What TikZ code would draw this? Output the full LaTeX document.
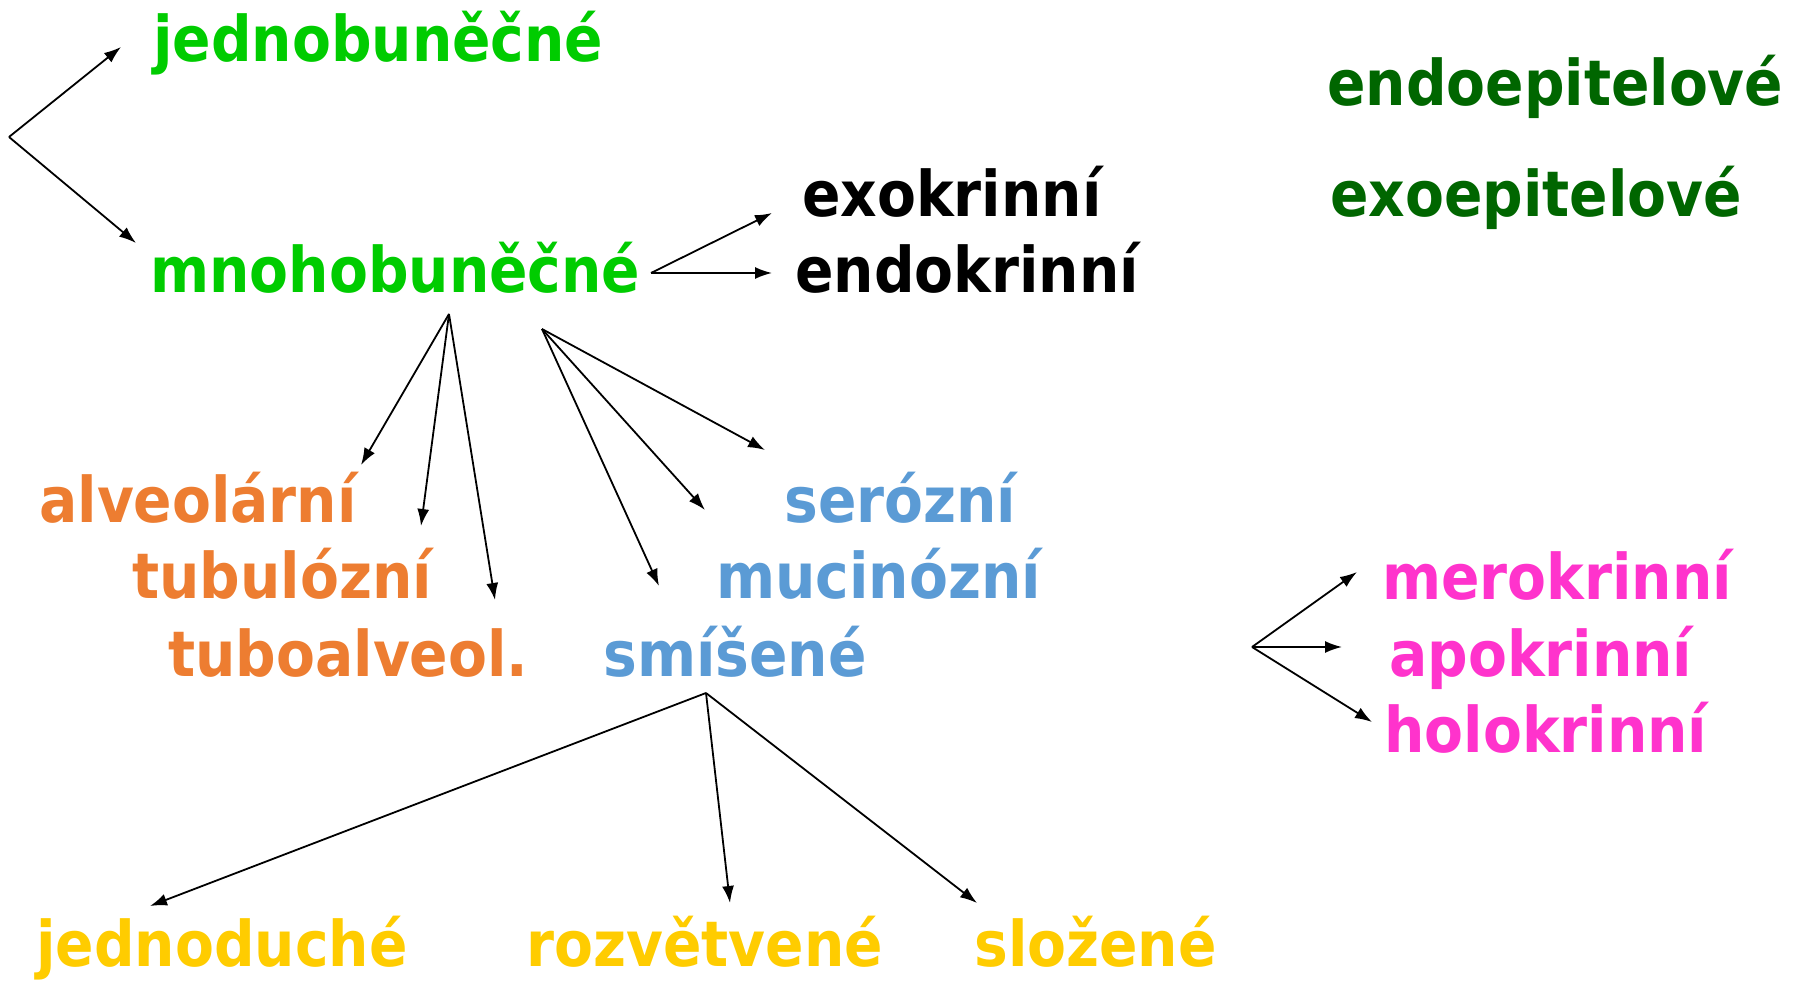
\documentclass[tikz,border=0pt]{standalone}
\usepackage{fontspec}
\setmainfont{DejaVu Sans Condensed}
\usetikzlibrary{arrows.meta}
\definecolor{litegreen}{RGB}{0,204,0}
\definecolor{darkgreen}{RGB}{0,102,0}
\definecolor{orng}{RGB}{237,125,49}
\definecolor{blu}{RGB}{91,155,213}
\definecolor{pnk}{RGB}{255,51,204}
\definecolor{yel}{RGB}{255,204,0}
\tikzset{
  word/.style={anchor=base west, inner sep=0pt, font=\bfseries\fontsize{31.5}{36}\selectfont},
  arr/.style={line width=0.9pt, -{Latex[length=8.5pt,width=6pt]}}
}
\begin{document}
\begin{tikzpicture}[x=0.5pt,y=-0.5pt]
  \useasboundingbox (0,0) rectangle (1801,983);
  % Words
  \node[word,litegreen] (jedno) at (153,62) {jednobuněčné};
  \node[word,litegreen] (mnoho) at (150,293) {mnohobuněčné};
  \node[word] (exo) at (802,217) {exokrinní};
  \node[word] (endo) at (795,293) {endokrinní};
  \node[word,darkgreen] (endoep) at (1327,106) {endoepitelové};
  \node[word,darkgreen] (exoep) at (1330,217) {exoepitelové};
  \node[word,orng] (alv) at (39,523) {alveolární};
  \node[word,orng] (tub) at (132,599) {tubulózní};
  \node[word,orng] (tubalv) at (168,677) {tuboalveol.};
  \node[word,blu] (ser) at (784,523) {serózní};
  \node[word,blu] (muc) at (716,599) {mucinózní};
  \node[word,blu] (smis) at (603,677) {smíšené};
  \node[word,pnk] (mero) at (1382,600) {merokrinní};
  \node[word,pnk] (apo) at (1389,677) {apokrinní};
  \node[word,pnk] (holo) at (1384,753) {holokrinní};
  \node[word,yel] (jednod) at (36,966) {jednoduché};
  \node[word,yel] (rozv) at (526,966) {rozvětvené};
  \node[word,yel] (sloz) at (974,966) {složené};
  % Fork points
  \coordinate (f1) at (9,137);
  \coordinate (f2) at (651,273);
  \coordinate (f3) at (449,314);
  \coordinate (f4) at (542,329);
  \coordinate (f5) at (1252,647);
  \coordinate (f6) at (706,693);
  % Arrow ends
  \coordinate (t1a) at (121,47);   \coordinate (t1b) at (136,243);
  \coordinate (t2a) at (772,213);  \coordinate (t2b) at (772,273);
  \coordinate (t3a) at (361,465);  \coordinate (t3b) at (421,526);  \coordinate (t3c) at (495,600);
  \coordinate (t4a) at (765,450);  \coordinate (t4b) at (705,510);  \coordinate (t4c) at (659,586);
  \coordinate (t5a) at (1357,572); \coordinate (t5b) at (1342,647); \coordinate (t5c) at (1372,722);
  \coordinate (t6a) at (150,906);  \coordinate (t6b) at (730,903);  \coordinate (t6c) at (977,903);
  % Arrows
  \draw[arr] (f1) -- (t1a);
  \draw[arr] (f1) -- (t1b);
  \draw[arr] (f2) -- (t2a);
  \draw[arr] (f2) -- (t2b);
  \foreach \t in {t3a,t3b,t3c} \draw[arr] (f3) -- (\t);
  \foreach \t in {t4a,t4b,t4c} \draw[arr] (f4) -- (\t);
  \foreach \t in {t5a,t5b,t5c} \draw[arr] (f5) -- (\t);
  \foreach \t in {t6a,t6b,t6c} \draw[arr] (f6) -- (\t);
\end{tikzpicture}
\end{document}
